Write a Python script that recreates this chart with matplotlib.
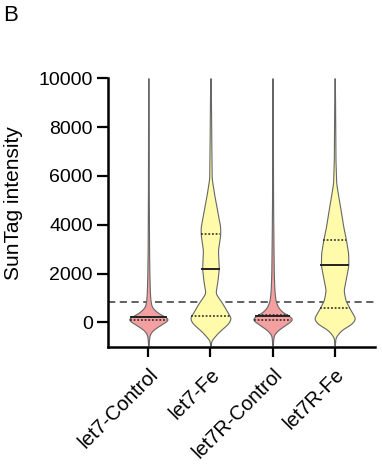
import numpy as np
import matplotlib
matplotlib.use("Agg")
import matplotlib.pyplot as plt
import matplotlib.transforms as mtransforms

plt.rcParams['font.family'] = ['Liberation Sans', 'DejaVu Sans']

categories = ["let7-Control", "let7-Fe", "let7R-Control", "let7R-Fe"]
colors = ["#F4A0A0", "#FFFBAA", "#F4A0A0", "#FFFBAA"]

# violin outlines: intensity levels and relative density (max = 1)
v1_y = [-950, -530, -330, -120, 90, 160, 260, 420, 630, 900, 1300, 2000, 2900, 5300, 10000]
v1_d = [0.01, 0.05, 0.19, 0.56, 0.96, 1.0, 0.72, 0.40, 0.16, 0.10, 0.07, 0.05, 0.035, 0.02, 0.01]

v2_y = [-950, -740, -400, -40, 200, 250, 780, 1190, 1720, 2200, 2950, 3600, 3900, 4730, 5290, 5900, 7400, 9000, 10000]
v2_d = [0.01, 0.04, 0.39, 0.87, 1.0, 0.93, 0.57, 0.24, 0.34, 0.40, 0.36, 0.47, 0.47, 0.29, 0.17, 0.06, 0.04, 0.025, 0.01]

v3_y = [-950, -530, -330, -120, 120, 250, 410, 620, 900, 1300, 2000, 3500, 5000, 10000]
v3_d = [0.01, 0.05, 0.24, 0.60, 1.0, 0.84, 0.48, 0.26, 0.14, 0.09, 0.06, 0.04, 0.025, 0.01]

v4_y = [-950, -610, -330, -40, 160, 570, 900, 1310, 1840, 2340, 2830, 3360, 3900, 4590, 5290, 5700, 6640, 9000, 10000]
v4_d = [0.01, 0.04, 0.30, 0.85, 1.0, 0.72, 0.52, 0.43, 0.55, 0.66, 0.65, 0.55, 0.42, 0.29, 0.15, 0.075, 0.04, 0.02, 0.01]

profiles_y = [v1_y, v2_y, v3_y, v4_y]
profiles_d = [v1_d, v2_d, v3_d, v4_d]

medians = [200, 2200, 270, 2340]
q1 = [90, 250, 90, 570]
q3 = [230, 3600, 300, 3360]

threshold = 820

max_half = 0.335


def smooth_profile(yv, dv, n=1200, sigma=70.0):
    yy = np.linspace(yv[0], yv[-1], n)
    dd = np.interp(yy, yv, dv)
    step = yy[1] - yy[0]
    k = np.arange(-int(4 * sigma / step), int(4 * sigma / step) + 1) * step
    ker = np.exp(-0.5 * (k / sigma) ** 2)
    ker /= ker.sum()
    pad = len(k) // 2
    ddp = np.concatenate([np.full(pad, dd[0]), dd, np.full(pad, dd[-1])])
    ds = np.convolve(ddp, ker, mode='valid')
    return yy, ds


fig = plt.figure(figsize=(3.82, 4.67), dpi=100)
ax = fig.add_axes([0.2827, 0.2576, 0.699, 0.5747])

for i in range(len(categories)):
    yy, ds = smooth_profile(np.array(profiles_y[i], float), np.array(profiles_d[i], float))
    dd = ds * max_half
    ax.fill_betweenx(yy, i - dd, i + dd, facecolor=colors[i], edgecolor='#666666',
                     linewidth=0.8, zorder=2)
    for val, ls, lw in [(medians[i], '-', 1.4), (q1[i], (0, (1.2, 1.2)), 1.1), (q3[i], (0, (1.2, 1.2)), 1.1)]:
        w = np.interp(val, yy, dd)
        ax.plot([i - w, i + w], [val, val], color='#222222', linestyle=ls, linewidth=lw, zorder=3)

ax.axhline(threshold, color='#555555', linestyle=(0, (4, 2.5)), linewidth=1.3, zorder=1)

ax.set_xlim(-0.65, 3.65)
ax.set_ylim(-1000, 10000)
ax.set_yticks([0, 2000, 4000, 6000, 8000, 10000])
ax.set_xticks(range(len(categories)))
ax.set_xticklabels(categories, rotation=45, ha='right', va='top', rotation_mode='anchor', fontsize=14.5)
offset = mtransforms.ScaledTranslation(-4 / 72, 0, fig.dpi_scale_trans)
for lab in ax.get_xticklabels():
    lab.set_transform(lab.get_transform() + offset)
ax.tick_params(axis='y', labelsize=14, width=1.6, length=8, pad=3)
ax.tick_params(axis='x', width=1.6, length=7, pad=6)
ax.set_ylabel("SunTag intensity", fontsize=15)
ax.yaxis.set_label_coords(-0.318, 0.537)

for s in ['top', 'right']:
    ax.spines[s].set_visible(False)
for s in ['left', 'bottom']:
    ax.spines[s].set_linewidth(1.8)

fig.text(0.008, 0.99, "B", fontsize=16, ha='left', va='top')

fig.savefig("out.png", dpi=100)
